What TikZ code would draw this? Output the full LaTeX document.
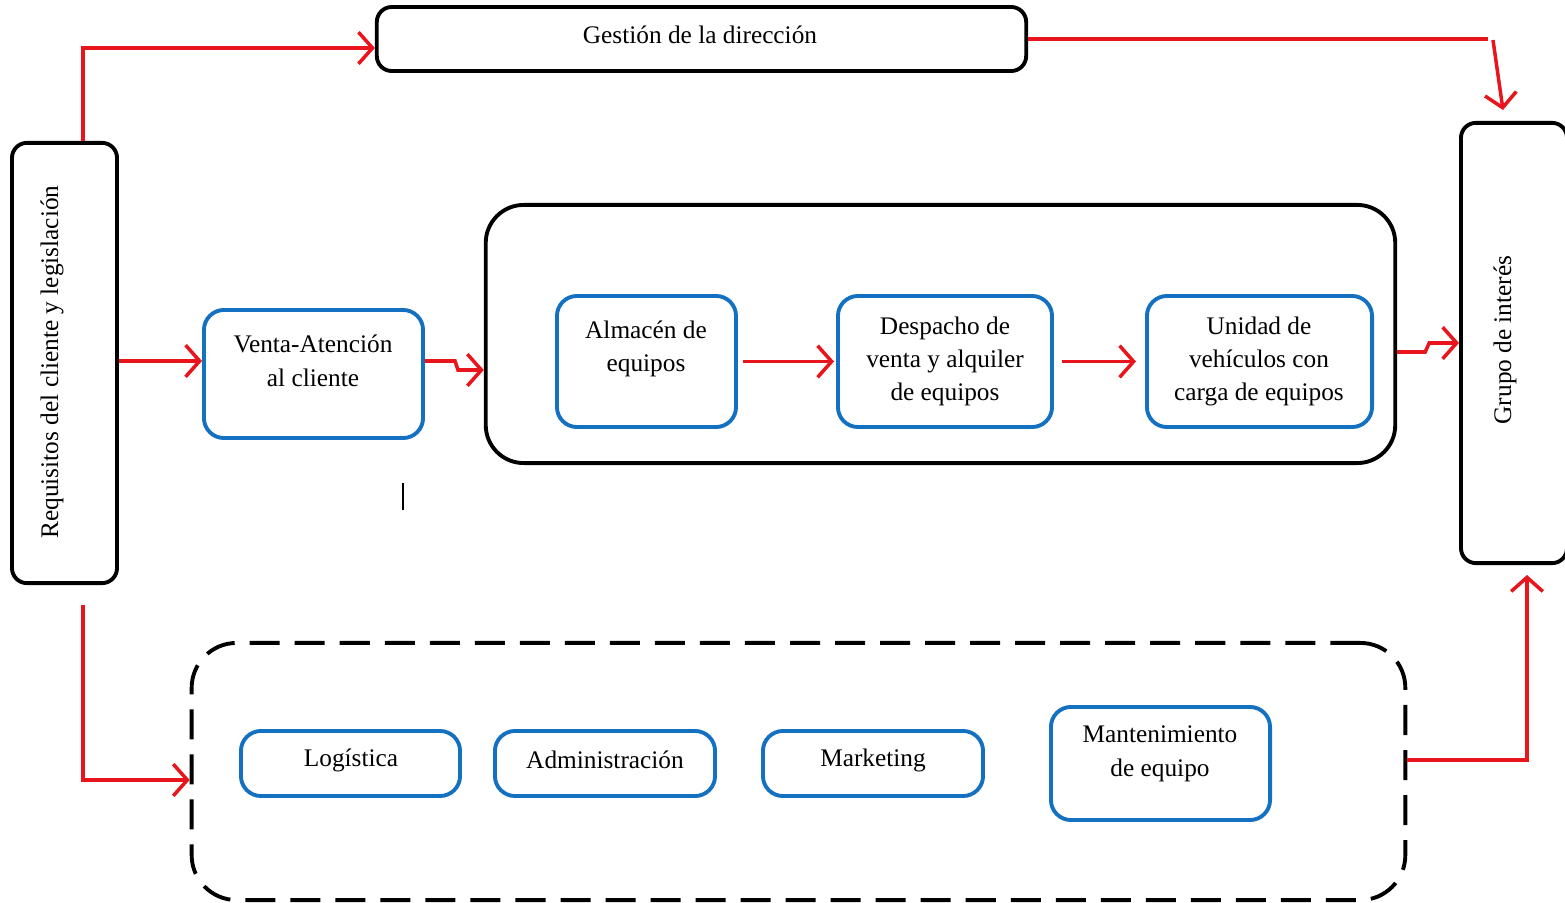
\documentclass[tikz,border=0pt]{standalone}
\usepackage{fontspec}
\setmainfont{Liberation Serif}
\usetikzlibrary{arrows.meta}
\definecolor{redC}{RGB}{232,22,28}
\definecolor{blueC}{RGB}{20,112,192}
\newcommand{\fs}{\fontsize{7.2}{9.5}\selectfont}
\begin{document}
\begin{tikzpicture}[x=0.01cm,y=-0.01cm,
  blk/.style={draw=black, line width=1.1pt, rounded corners=0.15cm, inner sep=0pt},
  bigbox/.style={draw=black, line width=1.1pt, rounded corners=0.38cm, inner sep=0pt},
  dashbox/.style={draw=black, line width=1.1pt, rounded corners=0.45cm, inner sep=0pt, dash pattern=on 0.3cm off 0.15cm},
  blu/.style={draw=blueC, line width=1.1pt, rounded corners=0.2cm, inner sep=0pt},
  txt/.style={font=\fs, align=center, inner sep=0pt},
  arr/.style={draw=redC, line width=1pt, -{Straight Barb[length=4pt,width=9pt,line width=1pt]}},
  ln/.style={draw=redC, line width=1pt}]
\useasboundingbox (0,0) rectangle (1565,903);
\clip (0,0) rectangle (1565,903);

% main boxes
\node[blk, minimum width=1.05cm, minimum height=4.4cm] (req) at (64.5,363) {};
\node[txt] (reqT) at (52,362) {\rotatebox{90}{Requisitos del cliente y legislación}};
\node[blk, minimum width=6.49cm, minimum height=0.64cm] (gest) at (701.5,39) {};
\node[txt] (gestT) at (700,35) {Gestión de la dirección};
\node[blk, minimum width=1.06cm, minimum height=4.4cm] (grupo) at (1514,343) {};
\node[txt] (grupoT) at (1505,340) {\rotatebox{90}{Grupo de interés}};

% middle
\node[blu, minimum width=2.19cm, minimum height=1.28cm] (venta) at (313.5,374) {};
\node[txt] (ventaT) at (313,361) {Venta-Atención\\al cliente};
\node[bigbox, minimum width=9.09cm, minimum height=2.58cm] (big) at (940.5,334) {};
\node[blu, minimum width=1.79cm, minimum height=1.31cm] (alm) at (646.5,361.5) {};
\node[txt] (almT) at (646,349) {Almacén de\\equipos};
\node[blu, minimum width=2.14cm, minimum height=1.31cm] (desp) at (945,361.5) {};
\node[txt] (despT) at (945,361.5) {Despacho de\\venta y alquiler\\de equipos};
\node[blu, minimum width=2.25cm, minimum height=1.31cm] (uni) at (1259.5,361.5) {};
\node[txt] (uniT) at (1259,361.5) {Unidad de\\vehículos con\\carga de equipos};

% bottom
\node[dashbox, minimum width=12.13cm, minimum height=2.57cm] (dash) at (798.5,771.5) {};
\node[blu, minimum width=2.19cm, minimum height=0.65cm] (log) at (350.5,763.5) {};
\node[txt] (logT) at (351,760) {Logística};
\node[blu, minimum width=2.2cm, minimum height=0.65cm] (adm) at (605,763.5) {};
\node[txt] (admT) at (605,760) {Administración};
\node[blu, minimum width=2.2cm, minimum height=0.65cm] (mkt) at (873,763.5) {};
\node[txt] (mktT) at (873,760) {Marketing};
\node[blu, minimum width=2.19cm, minimum height=1.13cm] (mant) at (1160.5,763.5) {};
\node[txt] (mantT) at (1160,754) {Mantenimiento\\de equipo};

% coordinates
\coordinate (g1) at (1488,39);
\coordinate (g2) at (1493,40);
\coordinate (g3) at (1503,110);
\coordinate (g4) at (1527,575);
\coordinate (m1) at (403,483);
\coordinate (m2) at (403,510);

% connectors
\draw[arr] ([xshift=0.185cm]req.north) |- ([yshift=-0.09cm]gest.west);
\draw[ln] (gest.east) -- (g1);
\draw[arr] (g2) -- (g3);
\draw[arr] (req.east |- ventaT) -- (venta.west |- ventaT);
\draw[arr] (venta.east |- ventaT) -- ++(30,0) -- ++(3,9) -- (big.west |- 0,370);
\draw[arr, shorten <=0.05cm, shorten >=0.02cm] (alm) -- (desp);
\draw[arr, shorten <=0.08cm, shorten >=0.09cm] (desp) -- (uni);
\draw[arr] (big.east |- 0,352) -- ++(28,0) -- ++(4,-9) -- (grupo.west |- 0,343);
\draw[arr] ([xshift=0.185cm,yshift=-0.2cm]req.south) |- (dash.west |- 0,780);
\draw[arr] (dash.east |- 0,760) -| (g4);
\draw[line width=0.5pt] (m1) -- (m2);
\end{tikzpicture}
\end{document}
